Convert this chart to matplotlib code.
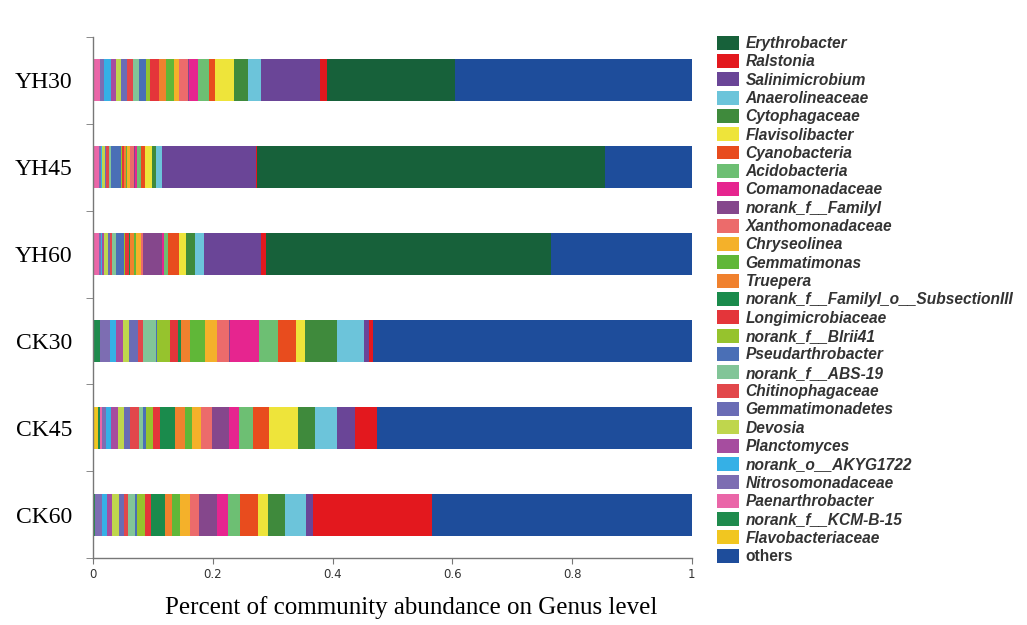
import numpy as np
import matplotlib.pyplot as plt
from matplotlib.patches import Patch

samples = ['YH30', 'YH45', 'YH60', 'CK30', 'CK45', 'CK60']

# genus names in legend order (top to bottom); stacked from the bottom of the list
genera = ['Erythrobacter', 'Ralstonia', 'Salinimicrobium', 'Anaerolineaceae',
          'Cytophagaceae', 'Flavisolibacter', 'Cyanobacteria', 'Acidobacteria',
          'Comamonadaceae', 'norank_f__FamilyI', 'Xanthomonadaceae', 'Chryseolinea',
          'Gemmatimonas', 'Truepera', 'norank_f__FamilyI_o__SubsectionIII',
          'Longimicrobiaceae', 'norank_f__Blrii41', 'Pseudarthrobacter',
          'norank_f__ABS-19', 'Chitinophagaceae', 'Gemmatimonadetes', 'Devosia',
          'Planctomyces', 'norank_o__AKYG1722', 'Nitrosomonadaceae',
          'Paenarthrobacter', 'norank_f__KCM-B-15', 'Flavobacteriaceae', 'others']

colors = ['#17613a', '#e3181e', '#6a4597', '#6cc4da', '#3f8a3c', '#eee43a',
          '#e84c1e', '#6dbf73', '#e6258f', '#85478c', '#ec6b6b', '#f4b12a',
          '#60b738', '#f0812e', '#1a8b4c', '#e4353a', '#96c32d', '#4a6fb6',
          '#82c598', '#e2474b', '#6a6cb5', '#bfd64d', '#a64d9f', '#35b0e6',
          '#7d6db2', '#ea66a8', '#1f8b4d', '#f1c620', '#1e4d9b']

# relative abundance per sample, same order as genera
yh30 = [0.213, 0.012, 0.099, 0.021, 0.023, 0.032, 0.010, 0.018, 0.015, 0.002,
        0.015, 0.0095, 0.012, 0.013, 0.0, 0.014, 0.007, 0.012, 0.0095, 0.010,
        0.010, 0.009, 0.008, 0.011, 0.007, 0.010, 0.002, 0.0, 0.396]
yh45 = [0.581, 0.002, 0.156, 0.011, 0.0067, 0.011, 0.007, 0.0065, 0.003, 0.002,
        0.0065, 0.0045, 0.002, 0.0035, 0.0, 0.0035, 0.002, 0.017, 0.003, 0.0045,
        0.002, 0.0055, 0.0, 0.002, 0.002, 0.0105, 0.0, 0.0, 0.145]
yh60 = [0.476, 0.008, 0.096, 0.014, 0.0155, 0.012, 0.018, 0.007, 0.004, 0.031,
        0.004, 0.008, 0.003, 0.007, 0.002, 0.0055, 0.003, 0.013, 0.006, 0.0045,
        0.003, 0.007, 0.002, 0.003, 0.003, 0.0095, 0.0, 0.0, 0.235]
ck30 = [0.0, 0.007, 0.008, 0.0455, 0.0545, 0.014, 0.0305, 0.032, 0.048, 0.002,
        0.0205, 0.020, 0.0245, 0.0155, 0.0045, 0.014, 0.0205, 0.002, 0.022, 0.0083,
        0.0145, 0.011, 0.0105, 0.010, 0.018, 0.0, 0.011, 0.0, 0.532]
ck45 = [0.0, 0.036, 0.0306, 0.036, 0.029, 0.049, 0.0267, 0.0234, 0.0167, 0.028,
        0.0178, 0.0145, 0.0122, 0.0167, 0.026, 0.0117, 0.011, 0.0055, 0.0067, 0.014,
        0.011, 0.0095, 0.011, 0.009, 0.007, 0.004, 0.003, 0.0078, 0.526]
ck60 = [0.0, 0.198, 0.0122, 0.035, 0.028, 0.0178, 0.0295, 0.021, 0.0178, 0.0306,
        0.015, 0.0167, 0.0128, 0.011, 0.024, 0.0095, 0.014, 0.003, 0.011, 0.0083,
        0.0083, 0.011, 0.0083, 0.0083, 0.011, 0.0, 0.004, 0.0, 0.434]

data = np.array([yh30, yh45, yh60, ck30, ck45, ck60])
ypos = np.arange(len(samples))[::-1]

fig = plt.figure(figsize=(10.27, 6.25), dpi=100)
ax = fig.add_axes([0.0906, 0.107, 0.583, 0.834])

# left to right: Flavobacteriaceae ... Erythrobacter, then others
order = list(range(len(genera) - 2, -1, -1)) + [len(genera) - 1]
left = np.zeros(len(samples))
for i in order:
    ax.barh(ypos, data[:, i], left=left, height=0.48, color=colors[i],
            edgecolor='none', linewidth=0)
    left += data[:, i]

ax.set_xlim(0, 1)
ax.set_ylim(-0.5, 5.5)
ax.set_xticks([0, 0.2, 0.4, 0.6, 0.8, 1])
ax.set_xticklabels(['0', '0.2', '0.4', '0.6', '0.8', '1'], fontsize=8.5, color='#333333')
ax.set_yticks(ypos)
ax.set_yticklabels(samples, fontfamily='Liberation Serif', fontsize=17)
ax.set_yticks(np.arange(-0.5, 6, 1), minor=True)
ax.tick_params(axis='y', which='major', length=0, pad=15)
ax.tick_params(axis='y', which='minor', length=5, color='#777777')
ax.tick_params(axis='x', length=4, color='#777777', pad=3)

for s in ['top', 'right']:
    ax.spines[s].set_visible(False)
for s in ['left', 'bottom']:
    ax.spines[s].set_color('#777777')
    ax.spines[s].set_linewidth(1.0)

ax.set_xlabel('Percent of community abundance on Genus level',
              fontfamily='Liberation Serif', fontsize=18, labelpad=12)
ax.xaxis.set_label_coords(0.531, -0.072)

handles = [Patch(facecolor=c, edgecolor='none') for c in colors]
leg = fig.legend(handles, genera, loc='upper left', bbox_to_anchor=(0.698, 0.943),
                 frameon=False, borderaxespad=0, borderpad=0,
                 handlelength=1.4, handleheight=1.0, handletextpad=0.45,
                 labelspacing=0.195,
                 prop={'family': 'Liberation Sans', 'size': 11.2,
                       'weight': 'bold', 'style': 'italic'})
for t in leg.get_texts():
    t.set_color('#333333')
leg.get_texts()[-1].set_style('normal')

fig.savefig('out.png', dpi=100)
